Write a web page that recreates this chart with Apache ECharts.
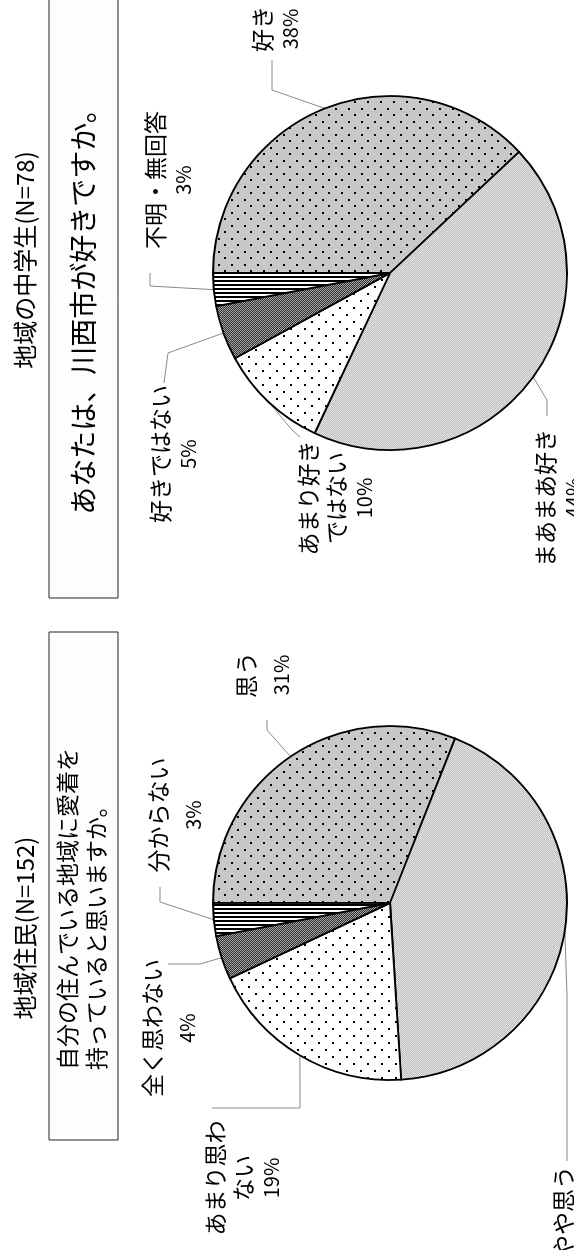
<!DOCTYPE html>
<html>
<head>
<meta charset="utf-8">
<script src="https://cdn.jsdelivr.net/npm/echarts@6/dist/echarts.min.js"></script>
<style>
  html, body { margin: 0; padding: 0; background: #fff; width: 574px; height: 1250px; overflow: hidden; }
  /* the figure is laid out landscape and turned a quarter turn to stand upright on the page */
  #chart { position: absolute; left: 0; top: 0; width: 1250px; height: 574px;
           transform-origin: 0 0; transform: translate(0, 1250px) rotate(-90deg); }
</style>
</head>
<body>
<div id="chart"></div>
<script>
// ---- survey results (percent) ----
const residentTitle = '地域住民(N=152)';
const residentQuestion = ['自分の住んでいる地域に愛着を', '持っていると思いますか。'];
const residentCategories = ['思う', 'やや思う', 'あまり思わない', '全く思わない', '分からない'];
const residentLabelText = ['思う', 'やや思う', 'あまり思わ\nない', '全く思わない', '分からない'];
const residentValues = [31, 43, 19, 4, 3];

const studentTitle = '地域の中学生(N=78)';
const studentQuestion = ['あなたは、川西市が好きですか。'];
const studentCategories = ['好き', 'まあまあ好き', 'あまり好きではない', '好きではない', '不明・無回答'];
const studentLabelText = ['好き', 'まあまあ好き', 'あまり好き\nではない', '好きではない', '不明・無回答'];
const studentValues = [38, 44, 10, 5, 3];

// ---- fill textures ----
function tile(w, h, draw) {
  const c = document.createElement('canvas');
  c.width = w; c.height = h;
  draw(c.getContext('2d'));
  return { image: c, repeat: 'repeat' };
}
const grayDots = tile(13, 13, g => {
  g.fillStyle = '#c8c8c8'; g.fillRect(0, 0, 13, 13);
  g.fillStyle = '#000'; g.fillRect(3, 3, 2, 2); g.fillRect(9, 10, 2, 2);
});
const lightGray = tile(2, 2, g => {
  g.fillStyle = '#e6e6e6'; g.fillRect(0, 0, 2, 2);
  g.fillStyle = '#bcbcbc'; g.fillRect(0, 0, 1, 1); g.fillRect(1, 1, 1, 1);
});
const whiteDots = tile(14, 14, g => {
  g.fillStyle = '#fff'; g.fillRect(0, 0, 14, 14);
  g.fillStyle = '#000'; g.fillRect(3, 3, 2, 2); g.fillRect(10, 10, 2, 2);
});
const darkGray = tile(2, 2, g => {
  g.fillStyle = '#a8a8a8'; g.fillRect(0, 0, 2, 2);
  g.fillStyle = '#2e2e2e'; g.fillRect(0, 0, 1, 1); g.fillRect(1, 1, 1, 1);
});
const stripes = tile(4, 4, g => {
  g.fillStyle = '#fff'; g.fillRect(0, 0, 4, 4);
  g.fillStyle = '#000'; g.fillRect(0, 0, 2, 4);
});
const fills = [grayDots, lightGray, whiteDots, darkGray, stripes];

// ---- layout ----
const FONT = '"Noto Sans CJK JP", "Noto Sans", sans-serif';
const R = 177;
const panels = [
  {
    cx: 347, cy: 390,
    lh: [35, 35, 28, 35, 35],
    // first-line centre of each label
    place: [[575, 246], [38, 563], [72, 215], [222, 152], [435, 158]],
    bends: [[[520, 267], [530, 267]], [[255, 567], [89, 567]], [[142, 300], [142, 212]],
            [[286, 200], [286, 168]], [[348, 160], [363, 160]]]
  },
  {
    cx: 977, cy: 390,
    lh: [28, 28, 28, 28, 28],
    place: [[1221, 262], [752, 545], [752, 308], [796, 160], [1070, 155]],
    bends: [[[1160, 272], [1190, 272]], [[850, 547], [834, 547]], [[820, 292], [813, 300]],
            [[897, 168], [867, 164]], [[964, 150], [977, 150]]]
  }
];

// point on the rim at the middle of slice i (clockwise from 12 o'clock)
function rimPoint(values, i, cx, cy) {
  const total = values.reduce((a, b) => a + b, 0);
  let before = 0;
  for (let k = 0; k < i; k++) before += values[k];
  const a = (before + values[i] / 2) / total * Math.PI * 2;
  return [cx + R * Math.sin(a), cy - R * Math.cos(a)];
}

function pieSeries(cats, labelText, values, panel) {
  return {
    type: 'pie',
    startAngle: 90,
    clockwise: true,
    center: [panel.cx, panel.cy],
    radius: R,
    animation: false,
    silent: true,
    data: cats.map((c, i) => ({
      name: c, value: values[i],
      itemStyle: { color: fills[i] },
      label: {
        rich: {
          n: { fontFamily: FONT, fontSize: 23, lineHeight: panel.lh[i], color: '#000', align: 'center' },
          p: { fontFamily: FONT, fontSize: 20, lineHeight: panel.lh[i], color: '#000', align: 'center' }
        }
      }
    })),
    itemStyle: { borderColor: '#000', borderWidth: 1.8 },
    label: {
      show: true,
      position: 'outside',
      formatter: p => labelText[p.dataIndex].split('\n').map(s => '{n|' + s + '}').join('\n') +
                      '\n{p|' + p.value + '%}'
    },
    labelLine: { show: true, lineStyle: { color: '#8a8a8a', width: 1 } },
    labelLayout: params => {
      const i = params.dataIndex;
      const pl = panel.place[i];
      const b = panel.bends[i];
      return {
        x: pl[0], y: pl[1] - panel.lh[i] / 2,
        align: 'center', verticalAlign: 'top',
        labelLinePoints: [rimPoint(values, i, panel.cx, panel.cy), b[0], b[1]]
      };
    }
  };
}

function text(str, x, y, size, align) {
  return {
    type: 'text', x: x, y: y, silent: true,
    style: { text: str, fontFamily: FONT, fontSize: size, fill: '#000',
             align: align, verticalAlign: 'middle', textAlign: align, textVerticalAlign: 'middle' }
  };
}

const chart = echarts.init(document.getElementById('chart'), null, { renderer: 'canvas' });
chart.setOption({
  backgroundColor: '#fff',
  animation: false,
  graphic: [
    { type: 'rect', silent: true, shape: { x: 110, y: 49, width: 508, height: 69 },
      style: { fill: '#fdfdfd', stroke: '#222', lineWidth: 1 } },
    { type: 'rect', silent: true, shape: { x: 652, y: 49, width: 660, height: 69 },
      style: { fill: '#fdfdfd', stroke: '#222', lineWidth: 1 } },
    text(residentTitle, 322, 25, 24, 'center'),
    text(studentTitle, 990, 25, 24, 'center'),
    text(residentQuestion[0], 180, 67, 23, 'left'),
    text(residentQuestion[1], 180, 96, 23, 'left'),
    text(studentQuestion[0], 945, 83, 28, 'center')
  ],
  series: [
    pieSeries(residentCategories, residentLabelText, residentValues, panels[0]),
    pieSeries(studentCategories, studentLabelText, studentValues, panels[1])
  ]
});
</script>
</body>
</html>
